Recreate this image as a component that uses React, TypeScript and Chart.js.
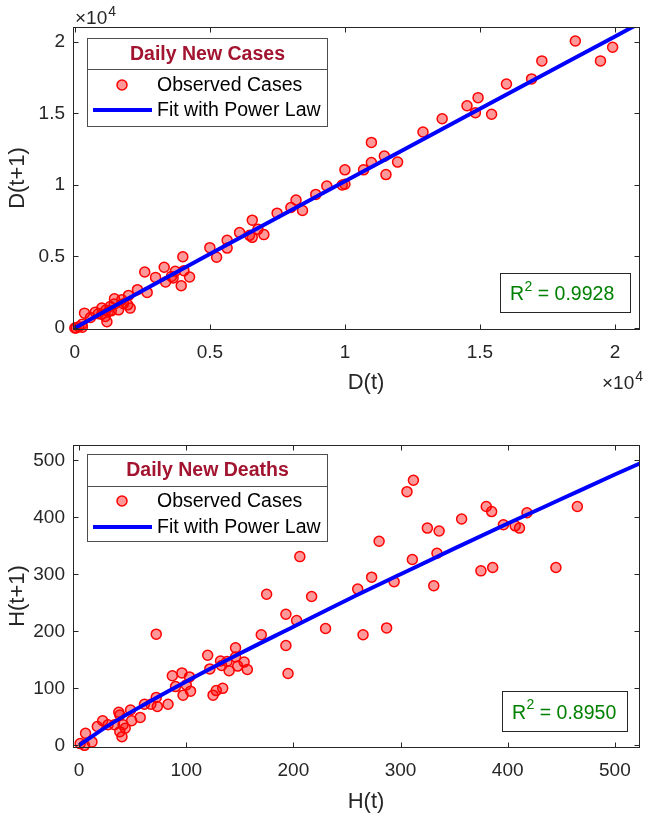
import React, { useEffect, useRef } from "react";
import { Chart, registerables } from "chart.js";
Chart.register(...registerables);

const FONT = '"Liberation Sans", Arial, Helvetica, sans-serif';

// ---------- Top panel: Daily New Cases ----------
const casesDt = [0, 50, 150, 280, 270, 360, 580, 760, 1000, 1000, 1130, 1190, 1310, 1460, 1470, 1620, 1740, 1960, 2050, 1990, 2320, 2680, 2590, 2990, 3310, 3360, 3580, 3640, 3720, 4040, 4250, 3940, 4000, 5000, 5250, 5640, 5640, 6100, 6570, 6470, 6570, 6780, 7000, 7490, 8000, 8190, 8430, 8920, 9330, 9900, 10000, 10000, 10690, 10980, 10980, 11460, 11520, 11950, 12890, 13600, 14520, 14830, 14930, 15430, 15980, 16910, 17290, 18530, 19460, 19910, 870, 1240, 1150, 1800, 1350];
const casesDt1 = [0, 0, 90, 50, 260, 1040, 730, 1110, 1390, 960, 800, 440, 1500, 1670, 2040, 1270, 1970, 1620, 1390, 2280, 2680, 2490, 3920, 3540, 4250, 3220, 3610, 3500, 3970, 4010, 3570, 2960, 4980, 5620, 4950, 6130, 5590, 6670, 7540, 6480, 6340, 6900, 6530, 8030, 8430, 8950, 8220, 9340, 9930, 10000, 10050, 11060, 11060, 11570, 12980, 12020, 10730, 11600, 13710, 14630, 15540, 15050, 16110, 14950, 17060, 17420, 18680, 20070, 18680, 19630, 1000, 1150, 1250, 1700, 1200];
const casesFitX = [0, 2500, 5000, 10000, 15000, 20000, 21000];
const casesFitY = [0, 2600, 5170, 10270, 15340, 20390, 21400];
const casesTicks = [0, 5000, 10000, 15000, 20000];
const casesTickLabels = ["0", "0.5", "1", "1.5", "2"];

// ---------- Bottom panel: Daily New Deaths ----------
const deathsHt = [1, 5, 6, 12, 17, 22, 27, 33, 37, 38, 38, 40, 41, 43, 48, 49, 57, 61, 67, 72, 73, 72, 83, 87, 90, 96, 97, 100, 103, 104, 120, 122, 125, 128, 132, 133, 134, 138, 140, 146, 146, 148, 154, 157, 170, 175, 193, 193, 195, 203, 206, 217, 230, 260, 265, 273, 280, 287, 294, 306, 311, 312, 325, 331, 334, 336, 357, 375, 380, 385, 386, 396, 407, 411, 418, 445, 465];
const deathsHt1 = [3, 0, 21, 6, 33, 43, 36, 36, 58, 53, 24, 15, 36, 30, 62, 43, 49, 72, 72, 84, 68, 195, 72, 122, 103, 127, 88, 106, 120, 95, 158, 134, 88, 96, 148, 140, 100, 147, 131, 155, 171, 139, 146, 133, 194, 265, 230, 175, 126, 219, 331, 261, 205, 274, 194, 295, 358, 206, 287, 445, 326, 465, 381, 280, 337, 376, 397, 306, 419, 410, 312, 387, 385, 381, 408, 312, 419];
const deathsFitX = [0, 25, 50, 100, 150, 200, 250, 300, 350, 400, 450, 500, 530];
const deathsFitY = [0, 32, 60, 112, 161, 208, 255, 300, 345, 389, 432, 475, 500];
const deathsTicks = [0, 100, 200, 300, 400, 500];
const deathsTickLabels = ["0", "100", "200", "300", "400", "500"];

const W = 646;
const H = 408;

type PanelCfg = {
  xs: number[]; ys: number[]; fitX: number[]; fitY: number[];
  xMin: number; xMax: number; yMin: number; yMax: number;
  ticks: number[]; tickLabels: string[];
  area: { left: number; right: number; top: number; bottom: number };
  xTitle: string; yTitle: string; xTitleX: number; xTitleY: number; yTitleY: number;
  legendTitle: string;
  legend: { l: number; t: number; r: number; b: number; sep: number; markerY: number; lineY: number };
  r2: string; r2Box: { l: number; t: number; r: number; b: number };
  exponent: boolean;
};

function makeDeco(c: PanelCfg) {
  return {
    id: "deco",
    afterDraw(chart: any) {
      const ctx = chart.ctx as CanvasRenderingContext2D;
      const a = chart.chartArea;
      const xs = chart.scales.x;
      const ys = chart.scales.y;
      ctx.save();
      // frame
      ctx.strokeStyle = "#262626";
      ctx.lineWidth = 1;
      const L = Math.round(a.left) + 0.5, R = Math.round(a.right) - 0.5;
      const T = Math.round(a.top) + 0.5, B = Math.round(a.bottom) - 0.5;
      ctx.strokeRect(L, T, R - L, B - T);
      // inward ticks on all sides
      ctx.beginPath();
      for (const v of c.ticks) {
        const px = Math.round(xs.getPixelForValue(v)) + 0.5;
        if (px > L && px < R) {
          ctx.moveTo(px, B); ctx.lineTo(px, B - 5);
          ctx.moveTo(px, T); ctx.lineTo(px, T + 5);
        }
        const py = Math.round(ys.getPixelForValue(v)) + 0.5;
        if (py > T && py < B) {
          ctx.moveTo(L, py); ctx.lineTo(L + 5, py);
          ctx.moveTo(R, py); ctx.lineTo(R - 5, py);
        }
      }
      ctx.stroke();

      // axis titles
      ctx.fillStyle = "#262626";
      ctx.font = `22px ${FONT}`;
      ctx.textAlign = "center";
      ctx.textBaseline = "middle";
      ctx.fillText(c.xTitle, c.xTitleX, c.xTitleY);
      ctx.save();
      ctx.translate(18, c.yTitleY);
      ctx.rotate(-Math.PI / 2);
      ctx.fillText(c.yTitle, 0, 0);
      ctx.restore();

      // exponent labels
      if (c.exponent) {
        const drawExp = (x: number, y: number) => {
          ctx.textAlign = "left";
          ctx.textBaseline = "middle";
          ctx.font = `19px ${FONT}`;
          ctx.fillStyle = "#262626";
          ctx.fillText("\u00d710", x, y);
          const w = ctx.measureText("\u00d710").width;
          ctx.font = `14px ${FONT}`;
          ctx.fillText("4", x + w + 1, y - 7);
        };
        drawExp(75, 19);
        drawExp(602, 384);
      }

      // legend
      const lg = c.legend;
      ctx.fillStyle = "#ffffff";
      ctx.fillRect(lg.l, lg.t, lg.r - lg.l, lg.b - lg.t);
      ctx.strokeStyle = "#4d4d4d";
      ctx.lineWidth = 1;
      ctx.strokeRect(lg.l + 0.5, lg.t + 0.5, lg.r - lg.l - 1, lg.b - lg.t - 1);
      ctx.beginPath();
      ctx.moveTo(lg.l, lg.sep + 0.5); ctx.lineTo(lg.r, lg.sep + 0.5);
      ctx.stroke();
      ctx.fillStyle = "#A2142F";
      ctx.font = `bold 19.5px ${FONT}`;
      ctx.textAlign = "center";
      ctx.textBaseline = "middle";
      ctx.fillText(c.legendTitle, (lg.l + lg.r) / 2, (lg.t + lg.sep) / 2 + 1);
      // marker
      ctx.beginPath();
      ctx.arc(122, lg.markerY, 5, 0, Math.PI * 2);
      ctx.fillStyle = "rgba(255,0,0,0.4)";
      ctx.fill();
      ctx.strokeStyle = "#ff0000";
      ctx.lineWidth = 1.5;
      ctx.stroke();
      // line
      ctx.beginPath();
      ctx.moveTo(93, lg.lineY); ctx.lineTo(152, lg.lineY);
      ctx.strokeStyle = "#0000ff";
      ctx.lineWidth = 4;
      ctx.stroke();
      ctx.fillStyle = "#000000";
      ctx.font = `19.5px ${FONT}`;
      ctx.textAlign = "left";
      ctx.fillText("Observed Cases", 157, lg.markerY + 1);
      ctx.fillText("Fit with Power Law", 157, lg.lineY + 1);

      // R^2 box
      const rb = c.r2Box;
      ctx.fillStyle = "#ffffff";
      ctx.fillRect(rb.l, rb.t, rb.r - rb.l, rb.b - rb.t);
      ctx.strokeStyle = "#262626";
      ctx.lineWidth = 1;
      ctx.strokeRect(rb.l + 0.5, rb.t + 0.5, rb.r - rb.l - 1, rb.b - rb.t - 1);
      ctx.fillStyle = "#008000";
      ctx.textAlign = "left";
      ctx.textBaseline = "middle";
      const cy = (rb.t + rb.b) / 2 + 2;
      let x = rb.l + 10;
      ctx.font = `19.5px ${FONT}`;
      ctx.fillText("R", x, cy);
      x += ctx.measureText("R").width;
      ctx.font = `14px ${FONT}`;
      ctx.fillText("2", x + 0.5, cy - 8);
      x += ctx.measureText("2").width + 0.5;
      ctx.font = `19.5px ${FONT}`;
      ctx.fillText(" = " + c.r2, x, cy);
      ctx.restore();
    },
  };
}

function Panel({ c }: { c: PanelCfg }) {
  const ref = useRef<HTMLCanvasElement>(null);
  useEffect(() => {
    const chart = new Chart(ref.current as HTMLCanvasElement, {
      type: "scatter",
      data: {
        datasets: [
          {
            type: "line",
            data: c.fitX.map((x, i) => ({ x, y: c.fitY[i] })),
            borderColor: "#0000ff",
            borderWidth: 4,
            pointRadius: 0,
            fill: false,
            cubicInterpolationMode: "monotone",
            showLine: true,
            order: 0,
          } as any,
          {
            type: "scatter",
            data: c.xs.map((x, i) => ({ x, y: c.ys[i] })),
            pointRadius: 5,
            pointBackgroundColor: "rgba(255,0,0,0.4)",
            pointBorderColor: "#ff0000",
            pointBorderWidth: 1.5,
            showLine: false,
            clip: false,
            order: 1,
          } as any,
        ],
      },
      options: {
        animation: false,
        responsive: false,
        events: [],
        layout: { padding: { top: c.area.top, right: W - c.area.right, left: 0, bottom: 0 } },
        plugins: { legend: { display: false }, tooltip: { enabled: false } },
        scales: {
          x: {
            type: "linear",
            min: c.xMin,
            max: c.xMax,
            grid: { display: false, drawTicks: false },
            border: { display: false },
            afterBuildTicks: (ax: any) => { ax.ticks = c.ticks.map((v) => ({ value: v })); },
            afterFit: (ax: any) => { ax.height = H - c.area.bottom; },
            ticks: {
              color: "#262626",
              font: { size: 19, family: FONT },
              padding: 11,
              maxRotation: 0,
              autoSkip: false,
              callback: (_v: any, i: number) => c.tickLabels[i],
            },
          },
          y: {
            type: "linear",
            min: c.yMin,
            max: c.yMax,
            grid: { display: false, drawTicks: false },
            border: { display: false },
            afterBuildTicks: (ax: any) => { ax.ticks = c.ticks.map((v) => ({ value: v })); },
            afterFit: (ax: any) => { ax.width = c.area.left; },
            ticks: {
              color: "#262626",
              font: { size: 19, family: FONT },
              padding: 8,
              autoSkip: false,
              callback: (_v: any, i: number) => c.tickLabels[i],
            },
          },
        },
      } as any,
      plugins: [makeDeco(c)],
    });
    return () => chart.destroy();
  }, [c]);
  return <canvas ref={ref} width={W} height={H} style={{ display: "block", width: W, height: H }} />;
}

const topCfg: PanelCfg = {
  xs: casesDt, ys: casesDt1, fitX: casesFitX, fitY: casesFitY,
  xMin: -66, xMax: 20905, yMin: -140, yMax: 21049,
  ticks: casesTicks, tickLabels: casesTickLabels,
  area: { left: 73, right: 643, top: 27, bottom: 330 },
  xTitle: "D(t)", yTitle: "D(t+1)", xTitleX: 366, xTitleY: 383, yTitleY: 178,
  legendTitle: "Daily New Cases",
  legend: { l: 87, t: 38, r: 328, b: 127, sep: 69, markerY: 85, lineY: 110 },
  r2: "0.9928", r2Box: { l: 500, t: 273, r: 631, b: 313 },
  exponent: true,
};

const bottomCfg: PanelCfg = {
  xs: deathsHt, ys: deathsHt1, fitX: deathsFitX, fitY: deathsFitY,
  xMin: -5.7, xMax: 523, yMin: -4.7, yMax: 526.8,
  ticks: deathsTicks, tickLabels: deathsTickLabels,
  area: { left: 73, right: 643, top: 37, bottom: 340 },
  xTitle: "H(t)", yTitle: "H(t+1)", xTitleX: 366, xTitleY: 394, yTitleY: 188,
  legendTitle: "Daily New Deaths",
  legend: { l: 87, t: 46, r: 328, b: 134, sep: 78, markerY: 93, lineY: 119 },
  r2: "0.8950", r2Box: { l: 502, t: 283, r: 628, b: 324 },
  exponent: false,
};

export default function App() {
  return (
    <div style={{ position: "fixed", left: 0, top: 0, width: W, height: 2 * H, background: "#fff" }}>
      <Panel c={topCfg} />
      <Panel c={bottomCfg} />
    </div>
  );
}
